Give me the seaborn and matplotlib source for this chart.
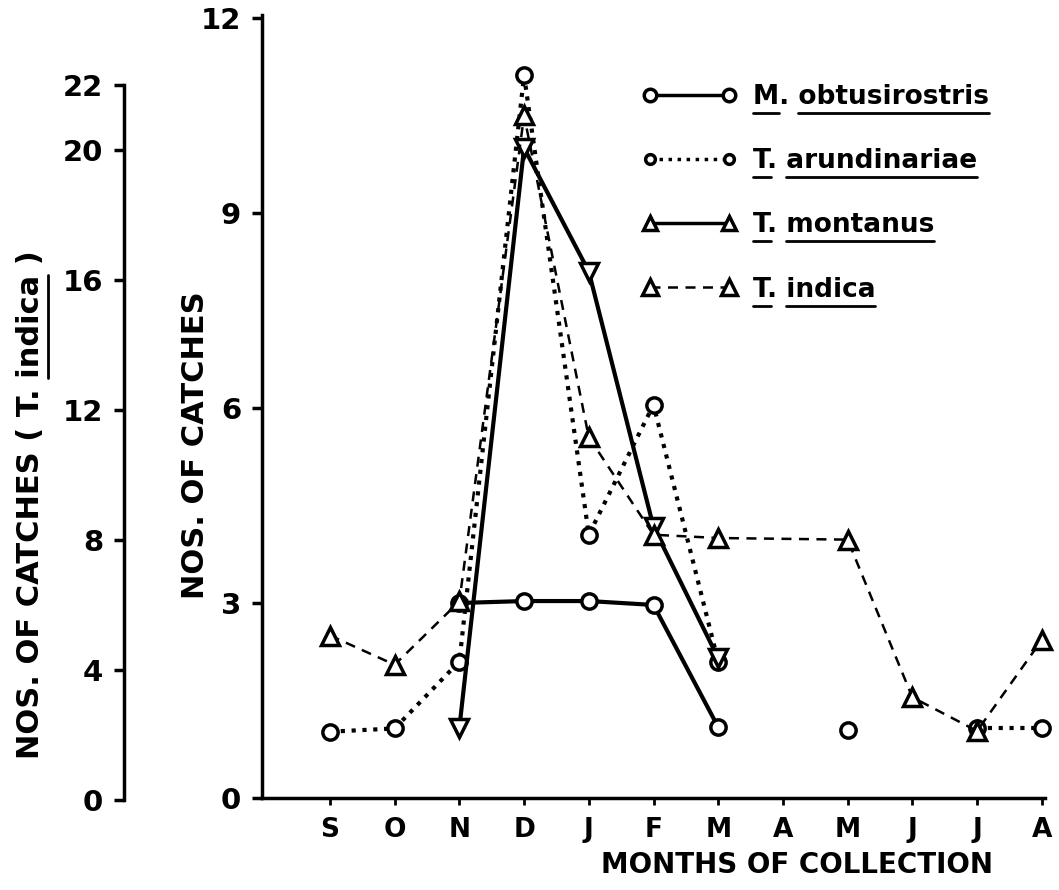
import numpy as np
import pandas as pd
import matplotlib
matplotlib.use("Agg")
import matplotlib.pyplot as plt
import seaborn as sns
from matplotlib.lines import Line2D
from matplotlib.font_manager import FontProperties

sns.set_theme(style="white")
FONT = 'DejaVu Sans'
plt.rcParams['font.family'] = [FONT]
plt.rcParams['font.weight'] = 'bold'
plt.rcParams['text.color'] = 'black'
plt.rcParams['axes.labelcolor'] = 'black'
plt.rcParams['axes.labelweight'] = 'bold'
plt.rcParams['xtick.color'] = 'black'
plt.rcParams['ytick.color'] = 'black'

nan = np.nan
months = ['S', 'O', 'N', 'D', 'J', 'F', 'M', 'A', 'M', 'J', 'J', 'A']
m_obtusirostris = [nan, nan, 3.0, 3.03, 3.03, 2.97, 1.09, nan, 1.05, nan, nan, nan]
t_arundinariae = [1.02, 1.07, 2.1, 11.12, 4.05, 6.05, 2.1, nan, nan, nan, 1.07, 1.07]
t_montanus = [nan, nan, 1.08, 10.0, 8.1, 4.17, 2.15, nan, nan, nan, nan, nan]
t_indica = [5.0, 4.1, 6.05, 21.0, 11.1, 8.1, 8.0, nan, 7.95, 3.1, 2.06, 4.86]
main_ticks = [0, 3, 6, 9, 12]
indica_ticks = [0, 4, 8, 12, 16, 20, 22]
legend_labels = ['M. obtusirostris', 'T. arundinariae', 'T. montanus', 'T. indica']


def segments(values, connect_gaps=False):
    rows, seg = [], 0
    for i, v in enumerate(values):
        if np.isnan(v):
            if not connect_gaps:
                seg += 1
            continue
        rows.append({'x': i, 'y': v, 'seg': seg})
    return pd.DataFrame(rows)


W, H = 1059, 890
fig = plt.figure(figsize=(W / 100, H / 100), dpi=100)
ax = fig.add_axes([262 / W, (H - 798) / H, (1045 - 262) / W, (798 - 15) / H])
ax.set_xlim(-1.05, 11.05)
ax.set_ylim(0, 783 / 65)
twin = ax.twinx()
twin.set_ylim(0, 783 / 32.5)

common = dict(x='x', y='y', units='seg', estimator=None, sort=False,
              color='black', legend=False, markerfacecolor='white',
              markeredgecolor='black', clip_on=False)

sns.lineplot(data=segments(m_obtusirostris), ax=ax, linewidth=3,
             linestyle='-', marker='o', markersize=11, markeredgewidth=2.5, **common)
sns.lineplot(data=segments(t_arundinariae), ax=ax, linewidth=3,
             linestyle=(0, (1, 1.6)), marker='o', markersize=11, markeredgewidth=2.5, **common)
sns.lineplot(data=segments(t_montanus), ax=ax, linewidth=3,
             linestyle='-', marker='v', markersize=13, markeredgewidth=2.5, **common)
sns.lineplot(data=segments(t_indica, connect_gaps=True), ax=twin, linewidth=1.8,
             linestyle=(0, (4, 3)), marker='^', markersize=13, markeredgewidth=2.5, **common)

for s in ['top', 'right']:
    ax.spines[s].set_visible(False)
for s in twin.spines.values():
    s.set_visible(False)
twin.set_yticks([])
twin.set_ylabel('')
for s in ['left', 'bottom']:
    ax.spines[s].set_linewidth(2.5)
    ax.spines[s].set_color('black')

ax.set_xticks(range(len(months)))
ax.set_xticklabels(months)
ax.set_yticks(main_ticks)
ax.set_yticklabels([str(t) for t in main_ticks])
ax.tick_params(axis='x', bottom=True, direction='out', length=5, width=2, labelsize=19, pad=9)
ax.tick_params(axis='y', left=True, direction='out', length=7, width=2.5, labelsize=21, pad=8)
ax.set_xlabel('MONTHS OF COLLECTION', fontsize=20)
ax.xaxis.set_label_coords(797 / W, (H - 851) / H, transform=fig.transFigure)
ax.set_ylabel('NOS. OF CATCHES', fontsize=22)
ax.yaxis.set_label_coords(210 / W, (H - 445) / H, transform=fig.transFigure)
ax.grid(False)

ax2 = fig.add_axes([124 / W, (H - 800) / H, 0.0005, (800 - 85) / H])
ax2.set_ylim(0, 22)
ax2.set_xticks([])
for s in ['top', 'right', 'bottom']:
    ax2.spines[s].set_visible(False)
ax2.spines['left'].set_linewidth(2.5)
ax2.spines['left'].set_color('black')
ax2.set_yticks(indica_ticks)
ax2.set_yticklabels([str(t) for t in indica_ticks])
ax2.tick_params(axis='y', left=True, direction='out', length=7, width=2.5, labelsize=21, pad=8)
ax2.set_facecolor('none')
ax2.set_ylabel('NOS. OF CATCHES ( T. indica )', fontsize=22)
ax2.yaxis.set_label_coords(45 / W, (H - 505) / H, transform=fig.transFigure)

handles = [
    Line2D([], [], color='black', lw=2.5, ls='-', marker='o', markersize=9,
           markerfacecolor='white', markeredgewidth=2.5),
    Line2D([], [], color='black', lw=2.5, ls=(0, (1, 1.6)), marker='o', markersize=7,
           markerfacecolor='white', markeredgewidth=2.5),
    Line2D([], [], color='black', lw=2.5, ls='-', marker='^', markersize=10,
           markerfacecolor='white', markeredgewidth=2.5),
    Line2D([], [], color='black', lw=1.8, ls=(0, (4, 3)), marker='^', markersize=11,
           markerfacecolor='white', markeredgewidth=2.5),
]
leg = ax.legend(handles, legend_labels, loc='upper left', bbox_to_anchor=(618 / W, (H - 60) / H),
                bbox_transform=fig.transFigure, frameon=False, numpoints=2,
                handlelength=3.6, handletextpad=0.6, labelspacing=1.45, fontsize=19)

fig.canvas.draw()
renderer = fig.canvas.get_renderer()


def text_width(s, size):
    fp = FontProperties(family=FONT, size=size, weight='bold')
    w, h, d = renderer.get_text_width_height_descent(s, fp, ismath=False)
    return w


for t in leg.get_texts():
    s = t.get_text()
    bb = t.get_window_extent(renderer)
    size = t.get_fontsize()
    genus, species = s.split('. ')
    x0 = bb.x0
    w_g = text_width(genus, size)
    w_pre = text_width(genus + '. ', size)
    y = bb.y0 - 3
    fig.add_artist(Line2D([x0 / W, (x0 + w_g) / W], [y / H, y / H], color='black', lw=2))
    fig.add_artist(Line2D([(x0 + w_pre) / W, bb.x1 / W], [y / H, y / H], color='black', lw=2))

lab = ax2.yaxis.get_label()
bb = lab.get_window_extent(renderer)
size = lab.get_fontsize()
pre = text_width('NOS. OF CATCHES ( T. ', size)
word = text_width('indica', size)
xline = bb.x1 + 3
ybot = bb.y0 + pre
fig.add_artist(Line2D([xline / W, xline / W], [ybot / H, (ybot + word) / H], color='black', lw=2))

fig.savefig('out.png', dpi=100, facecolor='white')
